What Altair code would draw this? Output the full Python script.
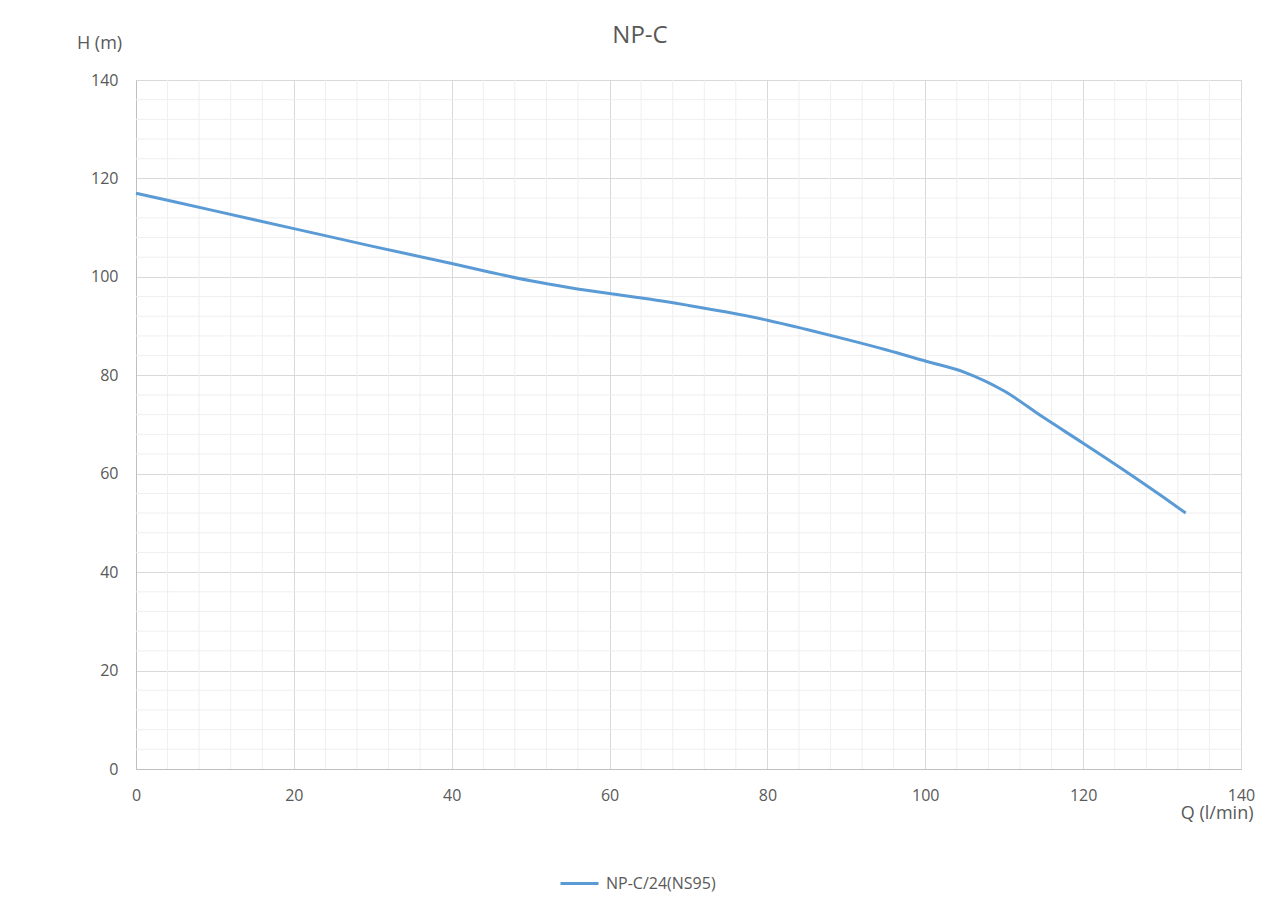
import altair as alt
import pandas as pd

# Data
q_values = [0, 10, 20, 30, 40, 45, 50, 55, 60, 65, 70, 75, 80, 85, 90, 95, 100, 105, 110, 115, 120, 125, 130, 133]
h_values = [117.0, 113.4, 109.8, 106.2, 102.7, 100.9, 99.2, 97.8, 96.6, 95.5, 94.2, 92.8, 91.2, 89.3, 87.3, 85.2,
            82.9, 80.6, 76.8, 71.4, 66.2, 60.9, 55.4, 52.0]
series_name = "NP-C/24(NS95)"
chart_title = ["NP-C"]

x_major = [0, 20, 40, 60, 80, 100, 120, 140]
y_major = [0, 20, 40, 60, 80, 100, 120, 140]
x_minor = [v for v in range(4, 140, 4) if v % 20 != 0]
y_minor = [v for v in range(4, 140, 4) if v % 20 != 0]

FONT = "Open Sans"
TXT = "#595959"
LINE = "#5B9BD5"

df = pd.DataFrame({"Q": q_values, "H": h_values, "series": [series_name] * len(q_values)})
xmin_df = pd.DataFrame({"Q": x_minor})
ymin_df = pd.DataFrame({"H": y_minor})
title_df = pd.DataFrame({"t": chart_title})

xscale = alt.Scale(domain=[0, 140], nice=False, zero=False)
yscale = alt.Scale(domain=[0, 140], nice=False, zero=False)

x_axis = alt.Axis(
    values=x_major,
    grid=True,
    gridColor="#d9d9d9",
    domainColor="#bfbfbf",
    ticks=False,
    labelFlush=False,
    labelPadding=18,
    labelFontSize=16,
    labelFont=FONT,
    labelColor=TXT,
    title="Q (l/min)",
    titleFont=FONT,
    titleFontSize=18,
    titleFontWeight="normal",
    titleColor=TXT,
    titleAlign="right",
    titleBaseline="middle",
    titleX=1117,
    titleY=44,
)
y_axis = alt.Axis(
    values=y_major,
    grid=True,
    gridColor="#d9d9d9",
    domainColor="#bfbfbf",
    ticks=False,
    labelFlush=False,
    labelPadding=18,
    labelFontSize=16,
    labelFont=FONT,
    labelColor=TXT,
    title="H (m)",
    titleFont=FONT,
    titleFontSize=18,
    titleFontWeight="normal",
    titleColor=TXT,
    titleAngle=0,
    titleAlign="center",
    titleBaseline="middle",
    titleX=-37,
    titleY=-37,
)

minor_x = alt.Chart(xmin_df).mark_rule(color="#efefef", strokeWidth=1).encode(
    x=alt.X("Q:Q", scale=xscale, axis=x_axis)
)
minor_y = alt.Chart(ymin_df).mark_rule(color="#efefef", strokeWidth=1).encode(
    y=alt.Y("H:Q", scale=yscale, axis=y_axis)
)

line = alt.Chart(df).mark_line(strokeWidth=3, interpolate="monotone").encode(
    x=alt.X("Q:Q", scale=xscale, axis=x_axis),
    y=alt.Y("H:Q", scale=yscale, axis=y_axis),
    color=alt.Color(
        "series:N",
        scale=alt.Scale(domain=[series_name], range=[LINE]),
        legend=alt.Legend(
            title=None,
            orient="none",
            legendX=423,
            legendY=783,
            symbolType="stroke",
            symbolSize=1444,
            symbolStrokeWidth=3,
            labelFont=FONT,
            labelFontSize=16,
            labelColor=TXT,
            labelOffset=6,
        ),
    ),
)

title_mark = alt.Chart(title_df).mark_text(
    font=FONT, fontSize=24, color=TXT, align="center", baseline="middle"
).encode(text="t:N", x=alt.value(504), y=alt.value(-44))

chart = (
    alt.layer(minor_x, minor_y, line, title_mark)
    .properties(
        width=1105,
        height=689,
        autosize=alt.AutoSizeParams(type="none"),
        padding={"left": 128, "top": 72, "right": 31, "bottom": 138},
    )
    .configure_view(stroke=None)
    .configure(background="white")
)

chart.save("out.html", embed_options={"renderer": "svg", "actions": False})
